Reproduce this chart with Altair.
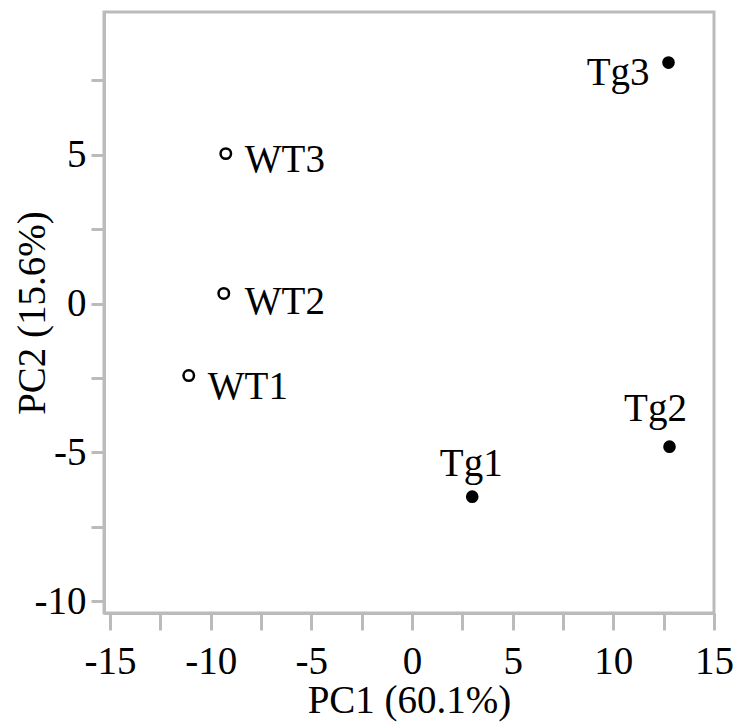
import altair as alt
import pandas as pd

samples = ["WT1", "WT2", "WT3", "Tg1", "Tg2", "Tg3"]
groups = ["WT", "WT", "WT", "Tg", "Tg", "Tg"]
pc1 = [-11.09, -9.35, -9.25, 2.99, 12.79, 12.74]
pc2 = [-2.42, 0.34, 5.04, -6.49, -4.81, 8.1]

df = pd.DataFrame({"sample": samples, "group": groups, "PC1": pc1, "PC2": pc2})

FONT = "Liberation Serif, Times New Roman, Times, serif"
FS = 39

x = alt.X("PC1:Q", title="PC1 (60.1%)",
          scale=alt.Scale(domain=[-15.3, 15], nice=False, zero=False),
          axis=alt.Axis(values=[-15, -12.5, -10, -7.5, -5, -2.5, 0, 2.5, 5, 7.5, 10, 12.5, 15],
                        labelExpr="datum.value % 5 == 0 ? toString(datum.value) : ''",
                        grid=False, tickSize=17, labelPadding=12, titlePadding=0))
y = alt.Y("PC2:Q", title="PC2 (15.6%)",
          scale=alt.Scale(domain=[-10.4, 9.8], nice=False, zero=False),
          axis=alt.Axis(values=[-10, -7.5, -5, -2.5, 0, 2.5, 5, 7.5],
                        labelExpr="datum.value % 5 == 0 ? toString(datum.value) : ''",
                        grid=False, tickSize=13, labelPadding=5, titleX=-52))

base = alt.Chart(df).encode(x=x, y=y)

wt = base.transform_filter("datum.group == 'WT'").mark_point(
    shape="circle", filled=False, color="black", strokeWidth=2.5, size=110, opacity=1)
tg = base.transform_filter("datum.group == 'Tg'").mark_point(
    shape="circle", filled=True, color="black", size=160, opacity=1)

offsets = {
    "WT1": ("left", 19, 11),
    "WT2": ("left", 21, 9),
    "WT3": ("left", 19, 6),
    "Tg1": ("center", -1, -33),
    "Tg2": ("center", -14, -38),
    "Tg3": ("right", -19, 10),
}
labels = []
for s, (al, dx, dy) in offsets.items():
    labels.append(
        base.transform_filter(f"datum.sample == '{s}'").mark_text(
            align=al, baseline="middle", dx=dx, dy=dy, font=FONT, fontSize=FS, color="black"
        ).encode(text="sample:N")
    )

chart = alt.layer(wt, tg, *labels).properties(
    width=610, height=601,
    autosize=alt.AutoSizeParams(type="none"),
    padding={"left": 96, "top": 4, "right": 19, "bottom": 116},
).configure_view(
    stroke="#bbbbbb", strokeWidth=3
).configure_axis(
    domain=True, domainColor="#bbbbbb", domainWidth=3,
    tickColor="#bbbbbb", tickWidth=3,
    labelFont=FONT, labelFontSize=FS, labelColor="black",
    titleFont=FONT, titleFontSize=FS, titleColor="black", titleFontWeight="normal",
    labelFlush=False,
)

chart.save("out.html", embed_options={"renderer": "svg", "actions": False})
